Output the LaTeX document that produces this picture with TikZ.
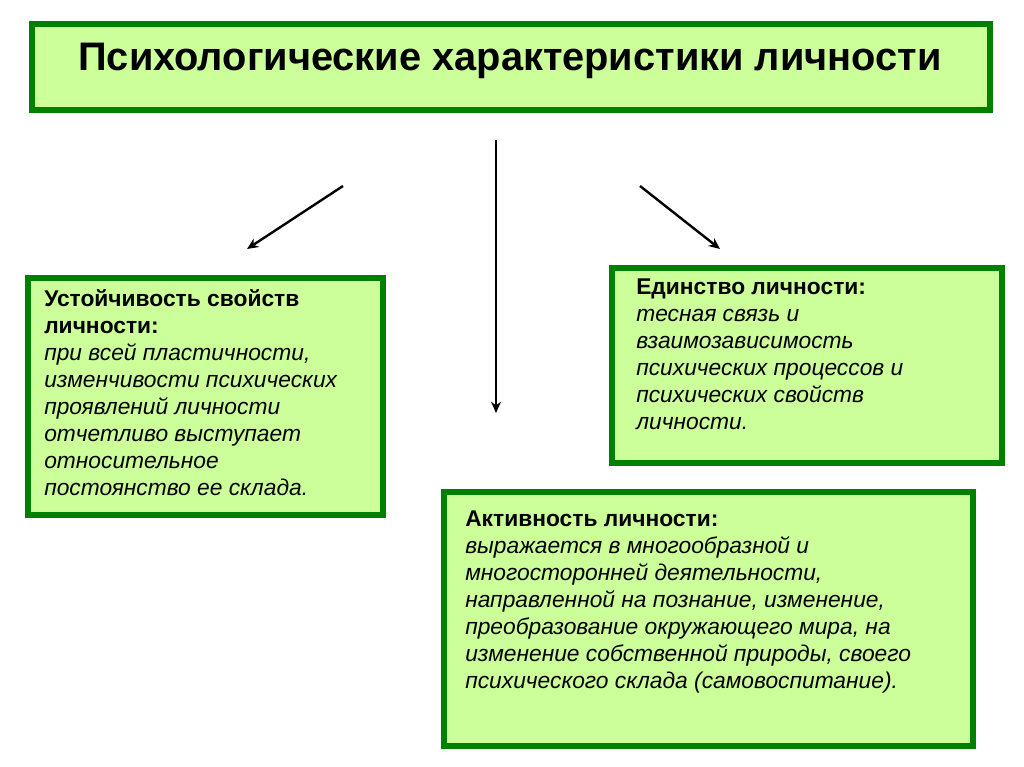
\documentclass[tikz,border=0pt]{standalone}
\usepackage{fontspec}
\setmainfont{Liberation Sans}
\usetikzlibrary{positioning,arrows.meta}
\definecolor{boxgreen}{RGB}{0,128,0}
\definecolor{boxfill}{RGB}{204,255,153}

\begin{document}
\begin{tikzpicture}[
        x=0.025cm, y=-0.025cm,
        box/.style={draw=boxgreen, line width=3.6pt, fill=boxfill},
        txt/.style={anchor=north west, align=left, font=\fontsize{16.2}{19.2}\selectfont, inner sep=0pt},
        arrow/.style={-{Stealth[length=8pt,width=7pt]}, line width=1.7pt}
    ]
    \useasboundingbox (0,0) rectangle (1024,767);

    % Boxes
    \draw[box] (32,24) rectangle (990,110);
    \node[font=\fontsize{28.3}{30}\bfseries\selectfont] (title) at (510,61) {Психологические характеристики личности};
    \draw[box] (28,278) rectangle (383,515);
    \draw[box] (612,268) rectangle (1002,463);
    \draw[box] (444,492) rectangle (973,746);

    % Texts
    \node[txt] (stab) at (44,289) {\textbf{Устойчивость свойств}\\\textbf{личности:}\\\textit{при всей пластичности,}\\\textit{изменчивости психических}\\\textit{проявлений личности}\\\textit{отчетливо выступает}\\\textit{относительное}\\\textit{постоянство ее склада.}};
    \node[txt] (unity) at (636,279) {\textbf{Единство личности:}\\\textit{тесная связь и}\\\textit{взаимозависимость}\\\textit{психических процессов и}\\\textit{психических свойств}\\\textit{личности.}};
    \node[txt] (activ) at (465,511) {\textbf{Активность личности:}\\\textit{выражается в многообразной и}\\\textit{многосторонней деятельности,}\\\textit{направленной на познание, изменение,}\\\textit{преобразование окружающего мира, на}\\\textit{изменение собственной природы, своего}\\\textit{психического склада (самовоспитание).}};

    % Arrows
    \coordinate (a1) at (343,186); \coordinate (b1) at (247,249);
    \coordinate (a2) at (496,140); \coordinate (b2) at (496,413);
    \coordinate (a3) at (640,186); \coordinate (b3) at (720,249);
    \draw[arrow] (a1) -- (b1);
    \draw[arrow] (a2) -- (b2);
    \draw[arrow] (a3) -- (b3);
\end{tikzpicture}
\end{document}
